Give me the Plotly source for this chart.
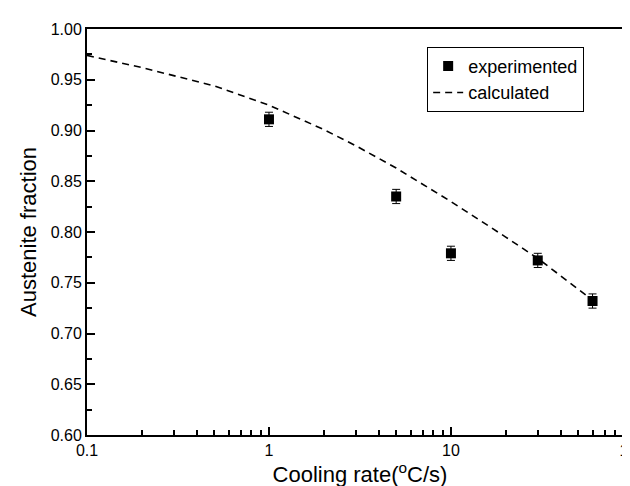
import plotly.graph_objects as go

exp_x = [1, 5, 10, 30, 60]
exp_y = [0.911, 0.835, 0.779, 0.772, 0.732]
exp_err = [0.007, 0.007, 0.007, 0.007, 0.007]

calc_x = [0.1, 0.2, 0.5, 1, 2, 3, 5, 10, 20, 30, 45, 60]
calc_y = [0.974, 0.962, 0.944, 0.925, 0.901, 0.885, 0.863, 0.830, 0.795, 0.774, 0.750, 0.733]

x_tickvals = [0.1, 1, 10, 100]
x_ticktext = ["0.1", "1", "10", "100"]
y_tickvals = [0.60, 0.65, 0.70, 0.75, 0.80, 0.85, 0.90, 0.95, 1.00]

font = "Liberation Sans, Arial, sans-serif"

fig = go.Figure()
fig.add_trace(go.Scatter(
    x=exp_x, y=exp_y, mode="markers", name="experimented",
    marker=dict(symbol="square", size=10, color="black"),
    error_y=dict(type="data", array=exp_err, color="black", thickness=1, width=4),
))
fig.add_trace(go.Scatter(
    x=calc_x, y=calc_y, mode="lines", name="calculated",
    line=dict(color="black", width=1.6, dash="7px,5px"),
))

minor_x = [m * d for d in (0.1, 1, 10) for m in range(2, 10)]

fig.update_layout(
    width=630, height=486,
    margin=dict(l=79, r=5, t=21, b=59, autoexpand=False),
    paper_bgcolor="white", plot_bgcolor="white",
    font=dict(family=font, color="black", size=16),
    showlegend=True,
    legend=dict(
        x=0.623, y=0.956, xanchor="left", yanchor="top",
        bordercolor="black", borderwidth=1, bgcolor="white",
        font=dict(size=18, family=font), tracegroupgap=0,
        itemwidth=30,
    ),
    xaxis=dict(
        type="log", range=[-1, 2.0005], automargin=False,
        tickvals=x_tickvals, ticktext=x_ticktext,
        ticklabeloverflow="allow",
        ticks="inside", ticklen=8, tickwidth=1.5, tickcolor="black",
        minor=dict(tickvals=minor_x, ticks="inside", ticklen=5, tickwidth=1.5,
                   tickcolor="black", showgrid=False),
        showline=True, linecolor="black", linewidth=2, mirror=True,
        showgrid=False, zeroline=False,
        tickfont=dict(size=16),
        title=dict(text="Cooling rate(<sup>o</sup>C/s)", font=dict(size=22), standoff=7),
    ),
    yaxis=dict(
        range=[0.60, 1.00], automargin=False,
        tickvals=y_tickvals, tickformat=".2f",
        ticks="inside", ticklen=8, tickwidth=1.5, tickcolor="black",
        minor=dict(dtick=0.025, ticks="inside", ticklen=5, tickwidth=1.5,
                   tickcolor="black", showgrid=False),
        showline=True, linecolor="black", linewidth=2, mirror=True,
        showgrid=False, zeroline=False,
        tickfont=dict(size=16),
        title=dict(text="Austenite fraction", font=dict(size=22), standoff=8),
    ),
)

fig.write_html("out.html")
